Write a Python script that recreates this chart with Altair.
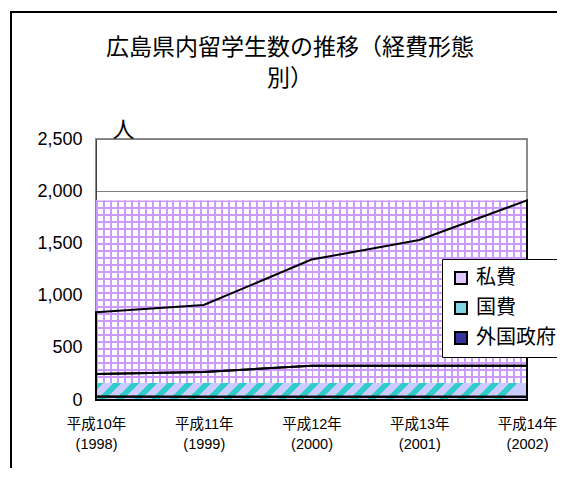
import json
import altair as alt
import pandas as pd

# ---- data ----
era_labels = ["平成10年", "平成11年", "平成12年", "平成13年", "平成14年"]
year_labels = ["(1998)", "(1999)", "(2000)", "(2001)", "(2002)"]
series_names = ["私費", "国費", "外国政府"]
shihi = [591, 642, 1016, 1203, 1583]      # 私費
kokuhi = [216, 237, 299, 299, 299]        # 国費
gaikoku = [33, 31, 30, 30, 30]            # 外国政府
y_ticks = [0, 500, 1000, 1500, 2000, 2500]
hatch_top = 163                           # top of the 国費 hatched band as drawn
title_lines = ["広島県内留学生数の推移（経費形態", "別）"]
unit_label = "人"
legend_colors = ["#e3c8ff", "#7fd5e3", "#333399"]

# ---- layout / style ----
W, H = 431, 261
Y_MAX = 2500
N = len(era_labels)

rows = []
for i in range(N):
    lo = 0
    for name, vals in (("外国政府", gaikoku), ("国費", kokuhi), ("私費", shihi)):
        rows.append({"i": i, "series": name, "lo": lo, "hi": lo + vals[i]})
        lo += vals[i]
df = pd.DataFrame(rows)
totals = [a + b + c for a, b, c in zip(shihi, kokuhi, gaikoku)]

df_grid = pd.DataFrame([{"x0": 0, "x1": N - 1, "y0": hatch_top, "y1": max(totals)}])
df_hatch = pd.DataFrame([{"x0": 0, "x1": N - 1, "y0": 0, "y1": hatch_top}])
df_one = pd.DataFrame([{"k": 0}])
df_leg = pd.DataFrame([{"series": s} for s in series_names])


def stripes(n, frac, color, bg, x2, y2):
    stops = []
    for k in range(n):
        a = k / n
        b = (k + frac) / n
        c = (k + 1) / n
        stops += [
            {"offset": a, "color": color},
            {"offset": b, "color": color},
            {"offset": b, "color": bg},
            {"offset": min(c, 1.0), "color": bg},
        ]
    return {"gradient": "linear", "x1": 0, "y1": 0, "x2": x2, "y2": y2, "stops": stops}


cell = 7.0
grid_px_h = (max(totals) - hatch_top) / Y_MAX * H
purple = "#cc99ff"
clear = "rgba(204,153,255,0)"
v_grad = stripes(round(W / cell), 2.0 / cell, purple, clear, 1, 0)
h_grad = stripes(round(grid_px_h / cell), 2.0 / cell, purple, clear, 0, 1)

hatch_px_h = hatch_top / Y_MAX * H
diag_grad = stripes(24, 0.42, "#33cccc", "#ccccff", 1, hatch_px_h / W)

label_pairs = [[e, y] for e, y in zip(era_labels, year_labels)]
label_expr = json.dumps(label_pairs, ensure_ascii=False) + "[datum.value]"

xscale = alt.Scale(domain=[0, N - 1], nice=False, zero=False)
yscale = alt.Scale(domain=[0, Y_MAX], nice=False)
xaxis = alt.Axis(
    values=list(range(N)), labelExpr=label_expr, domain=False, ticks=False, grid=False,
    labelPadding=17, labelFontSize=14.5, labelFont="Liberation Sans, Noto Sans CJK JP",
    labelLineHeight=20, labelColor="black", labelFlush=False, labelOverlap=False, title=None,
)
yaxis = alt.Axis(
    values=y_ticks, format=",d", ticks=False, labelPadding=14, labelFontSize=18,
    labelFont="Liberation Sans", labelColor="black", grid=True, gridColor="#808080",
    gridWidth=1, domainColor="#404040", domainWidth=1,
    title=unit_label, titleAngle=0, titleX=27, titleY=-10, titleAlign="center",
    titleBaseline="middle", titleFontSize=22, titleFont="Noto Sans CJK JP",
    titleFontWeight="normal", titleColor="black",
)


def X(f):
    return alt.X(f, type="quantitative", scale=xscale, axis=xaxis, title=None)


def Y(f):
    return alt.Y(f, type="quantitative", scale=yscale, axis=yaxis, stack=None)


frame = alt.Chart(df_one).mark_rect(fill="transparent", stroke="black", strokeWidth=2).encode(
    x=alt.value(-85), x2=alt.value(W + 60), y=alt.value(-127), y2=alt.value(H + 100)
)

title = alt.Chart(df_one).mark_text(
    text=title_lines, font="Noto Sans CJK JP", fontSize=23, lineHeight=31,
    align="center", baseline="alphabetic", color="black",
).encode(x=alt.value(194), y=alt.value(-84))

base_white = alt.Chart(df_grid).mark_rect(fill="white").encode(
    x=X("x0"), x2="x1", y=Y("y0"), y2="y1"
)
vstripes = alt.Chart(df_grid).mark_rect(fill=v_grad).encode(
    x=X("x0"), x2="x1", y=Y("y0"), y2="y1"
)
hstripes = alt.Chart(df_grid).mark_rect(fill=h_grad).encode(
    x=X("x0"), x2="x1", y=Y("y0"), y2="y1"
)
hatch = alt.Chart(df_hatch).mark_rect(fill=diag_grad).encode(
    x=X("x0"), x2="x1", y=Y("y0"), y2="y1"
)

areas = alt.Chart(df).mark_area(
    fillOpacity=0, stroke="black", strokeWidth=2, strokeJoin="miter"
).encode(x=X("i"), y=Y("hi"), y2="lo", detail="series:N")

legend_layer = alt.Chart(df_leg).mark_square(opacity=1, size=144).encode(
    color=alt.Color(
        "series:N",
        scale=alt.Scale(domain=series_names, range=legend_colors),
        legend=alt.Legend(
            orient="none", legendX=346, legendY=120, title=None, padding=9,
            fillColor="white", strokeColor="black", labelFontSize=20,
            labelFont="Noto Sans CJK JP", labelColor="black", symbolType="square",
            symbolSize=144, symbolStrokeColor="black", symbolStrokeWidth=2,
            symbolOpacity=1, rowPadding=10, labelOffset=5,
        ),
    )
).transform_filter("false")

chart = alt.layer(
    frame, title, base_white, vstripes, hstripes, hatch, areas, legend_layer
).properties(
    width=W, height=H,
    autosize=alt.AutoSizeParams(type="none"),
    padding={"left": 88, "top": 131, "right": 30, "bottom": 68},
).configure(background="white").configure_view(stroke="#8c8c8c", strokeWidth=2)

chart.save("out.html", embed_options={"renderer": "svg", "actions": False})
